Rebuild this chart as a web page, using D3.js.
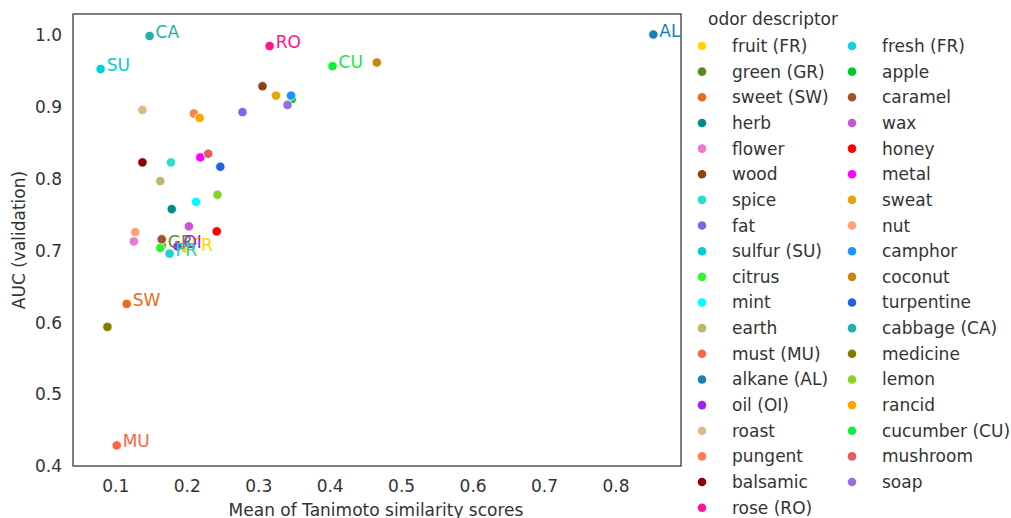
<!DOCTYPE html>
<html><head><meta charset="utf-8">
<script src="https://cdn.jsdelivr.net/npm/d3@7"></script>
<style>body{margin:0;background:#fff;} text{font-family:"DejaVu Sans",sans-serif;}</style>
</head><body><svg id="chart" width="1011" height="518"></svg>
<script>
const descriptors = ["fruit (FR)","green (GR)","sweet (SW)","herb","flower","wood","spice","fat","sulfur (SU)","citrus","mint","earth","must (MU)","alkane (AL)","oil (OI)","roast","pungent","balsamic","rose (RO)","fresh (FR)","apple","caramel","wax","honey","metal","sweat","nut","camphor","coconut","turpentine","cabbage (CA)","medicine","lemon","rancid","cucumber (CU)","mushroom","soap"];
const abbreviations = ["FR","GR","SW","","","","","","SU","","","","MU","AL","OI","","","","RO","FR","","","","","","","","","","","CA","","","","CU","",""];
const tanimotoMean = [0.198,0.165,0.116,0.179,0.126,0.306,0.178,0.278,0.0795,0.163,0.213,0.163,0.102,0.853,0.187,0.138,0.210,0.138,0.316,0.176,0.347,0.165,0.203,0.242,0.219,0.325,0.128,0.346,0.466,0.247,0.148,0.089,0.243,0.218,0.404,0.230,0.341];
const aucValidation = [0.703,0.707,0.626,0.758,0.713,0.929,0.823,0.893,0.953,0.704,0.768,0.797,0.429,1.001,0.706,0.896,0.891,0.823,0.985,0.696,0.911,0.716,0.734,0.727,0.830,0.916,0.726,0.916,0.962,0.817,0.999,0.594,0.778,0.885,0.957,0.835,0.903];
const palette = ["#FFD700","#5a8a1e","#EE6A1A","#008B8B","#EE77D0","#8B4513","#2EDCCB","#7B68EE","#00CED1","#2EF52E","#00FFFF","#BDB76B","#FF6347","#1a7fb5","#A020F0","#DEB887","#FF7F50","#8B0000","#FF1493","#17D0D8","#00cc30","#A0522D","#C856D6","#FF0000","#FF00FF","#EBA30E","#FFA07A","#1E90FF","#C98512","#1f63e0","#20B2AA","#808000","#8AD12A","#FFA500","#11EE3A","#E35D5D","#9370DB"];
const xTicks = [0.1,0.2,0.3,0.4,0.5,0.6,0.7,0.8];
const yTicks = [0.4,0.5,0.6,0.7,0.8,0.9,1.0];
const xTitle = "Mean of Tanimoto similarity scores";
const yTitle = "AUC (validation)";
const legendTitle = "odor descriptor";

const data = descriptors.map((d,i)=>({name:d, abbr:abbreviations[i], x:tanimotoMean[i], y:aucValidation[i], color:palette[i]}));

const svg = d3.select("#chart");
const L=73, R=681, T=14, B=466;
const textColor = "#333";
const fs = 17;

function padded(vals){const [a,b]=d3.extent(vals); const m=(b-a)*0.05; return [a-m,b+m];}
const x = d3.scaleLinear().domain(padded(tanimotoMean)).range([L,R]);
const y = d3.scaleLinear().domain(padded(aucValidation)).range([B,T]);

// axes
const xa = svg.append("g").attr("transform",`translate(0,${B})`)
  .call(d3.axisBottom(x).tickValues(xTicks).tickFormat(d3.format(".1f")).tickSize(0).tickPadding(14));
xa.select(".domain").remove();
xa.selectAll("text").attr("font-size",fs).attr("fill",textColor).attr("font-family","DejaVu Sans");
const ya = svg.append("g").attr("transform",`translate(${L},0)`)
  .call(d3.axisLeft(y).tickValues(yTicks).tickFormat(d3.format(".1f")).tickSize(0).tickPadding(11));
ya.select(".domain").remove();
ya.selectAll("text").attr("font-size",fs).attr("fill",textColor).attr("font-family","DejaVu Sans");

svg.append("text").attr("x",(L+R)/2 - 1).attr("y",516).attr("text-anchor","middle")
  .attr("font-size",fs).attr("fill",textColor).text(xTitle);
svg.append("text").attr("transform",`translate(25,${(T+B)/2}) rotate(-90)`).attr("text-anchor","middle")
  .attr("font-size",fs).attr("fill",textColor).text(yTitle);

// points
svg.append("g").selectAll("circle").data(data).join("circle")
  .attr("cx",d=>x(d.x)).attr("cy",d=>y(d.y)).attr("r",4.7)
  .attr("fill",d=>d.color).attr("stroke","#fff").attr("stroke-width",0.8);

// annotations
svg.append("g").selectAll("text").data(data.filter(d=>d.abbr)).join("text")
  .attr("x",d=>x(d.x)+6).attr("y",d=>y(d.y)+2)
  .attr("font-size",fs).attr("fill",d=>d.color).text(d=>d.abbr);

// frame
svg.append("rect").attr("x",L).attr("y",T).attr("width",R-L).attr("height",B-T)
  .attr("fill","none").attr("stroke","#333").attr("stroke-width",1.25);

// legend
const lg = svg.append("g");
lg.append("text").attr("x",708).attr("y",25).attr("font-size",fs).attr("fill",textColor).text(legendTitle);
const rowsPerCol = 19, rowStep = 25.65, row0 = 46;
const items = lg.selectAll("g.item").data(data).join("g").attr("class","item")
  .attr("transform",(d,i)=>{const c=Math.floor(i/rowsPerCol), r=i%rowsPerCol; return `translate(${c?852:702},${row0+r*rowStep})`;});
items.append("circle").attr("r",4.3).attr("fill",d=>d.color);
items.append("text").attr("x",30).attr("dy","0.35em").attr("font-size",fs).attr("fill",textColor).text(d=>d.name);
</script></body></html>
